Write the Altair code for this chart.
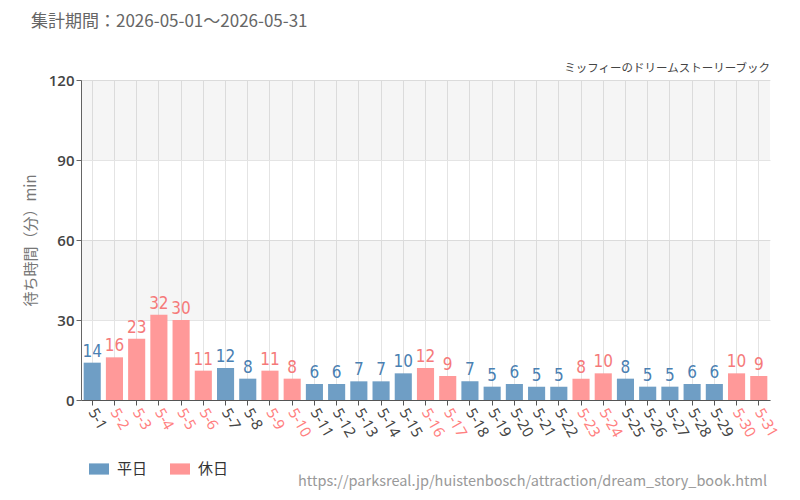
import altair as alt
import pandas as pd

days = [f"5-{d}" for d in range(1, 32)]
values = [14, 16, 23, 32, 30, 11, 12, 8, 11, 8, 6, 6, 7, 7, 10, 12, 9, 7, 5, 6, 5, 5, 8, 10, 8, 5, 5, 6, 6, 10, 9]
holidays = ["5-2", "5-3", "5-4", "5-5", "5-6", "5-9", "5-10", "5-16", "5-17", "5-23", "5-24", "5-30", "5-31"]
types = ["休日" if d in holidays else "平日" for d in days]
band_lo = [30, 90]
band_hi = [60, 120]
y_ticks = [0, 30, 60, 90, 120]

df = pd.DataFrame({"day": days, "value": values, "type": types})
bands = pd.DataFrame({"lo": band_lo, "hi": band_hi})

JP = "Noto Sans CJK JP"
BLUE = "#6a9bc3"
PINK = "#ff9696"
BLUE_T = "#4a80b2"
PINK_T = "#f57a7a"
NARROW = "'Noto Sans Condensed', 'DejaVu Sans Condensed', 'Liberation Sans Narrow', 'Roboto Condensed', sans-serif"

hol_list = "[" + ",".join(f"'{h}'" for h in holidays) + "]"

x_enc = alt.X(
    "day:N", sort=days, title=None,
    scale=alt.Scale(paddingInner=0.23, paddingOuter=0.12),
    axis=alt.Axis(
        labelAngle=60, labelAlign="left", labelBaseline="middle",
        labelFont="Noto Sans", labelFontSize=15, labelPadding=4,
        labelColor=alt.condition(f"indexof({hol_list}, datum.value) >= 0", alt.value("#ff8080"), alt.value("#444444")),
        domainColor="#555555", tickColor="#555555", tickSize=5,
        grid=True, gridColor="#e4e4e4", bandPosition=0.5,
    ),
)
y_scale = alt.Scale(domain=[0, 120], nice=False)

band_layer = alt.Chart(bands).mark_rect(color="#000000", opacity=0.04).encode(
    y=alt.Y("lo:Q", scale=y_scale),
    y2="hi:Q",
    x=alt.value(0),
    x2=alt.value(689),
)

bars = alt.Chart(df).mark_bar(opacity=0.97).encode(
    x=x_enc,
    y=alt.Y(
        "value:Q", scale=y_scale, title="待ち時間（分）min",
        axis=alt.Axis(
            values=y_ticks, labelFont="Open Sans", labelFontSize=15, labelFontWeight=600,
            labelColor="#444444", titleFont=JP, titleFontSize=15, titleFontWeight="normal",
            titleColor="#777777", titlePadding=10, domainColor="#666666", tickColor="#666666",
            tickSize=5, gridColor="#e4e4e4",
        ),
    ),
    color=alt.Color(
        "type:N", scale=alt.Scale(domain=["平日", "休日"], range=[BLUE, PINK]), title=None,
        legend=alt.Legend(
            orient="none", legendX=8, legendY=379, direction="horizontal",
            symbolType="M-1,-0.56H1V0.56H-1Z", symbolSize=400, symbolStrokeWidth=0,
            symbolOpacity=1, labelFont=JP, labelFontSize=15, labelColor="#333333",
            columnPadding=22, labelOffset=8,
        ),
    ),
)

labels = alt.Chart(df).mark_text(
    dy=-2, font=NARROW, fontSize=17, baseline="bottom"
).encode(
    x=alt.X("day:N", sort=days),
    y=alt.Y("value:Q", scale=y_scale),
    text="value:Q",
    color=alt.condition("datum.type == '休日'", alt.value(PINK_T), alt.value(BLUE_T)),
)

def note(text, x, y, align, size, color):
    return alt.Chart(pd.DataFrame({"t": [text]})).mark_text(
        align=align, baseline="middle", font=JP, fontSize=size, color=color
    ).encode(text="t:N", x=alt.value(x), y=alt.value(y))

title = note("集計期間：2026-05-01～2026-05-31", -50, -58, "left", 17, "#666666")
sub = note("ミッフィーのドリームストーリーブック", 689, -11, "right", 11.5, "#444444")
src = note("https://parksreal.jp/huistenbosch/attraction/dream_story_book.html", 686, 402, "right", 14.5, "#999999")

chart = alt.layer(band_layer, bars, labels, title, sub, src).properties(
    width=689, height=320,
    autosize=alt.AutoSizeParams(type="none"),
    padding={"left": 81, "top": 80, "right": 30, "bottom": 100},
).configure_view(stroke=None)

chart.save("out.html", embed_options={"renderer": "svg", "actions": False})
